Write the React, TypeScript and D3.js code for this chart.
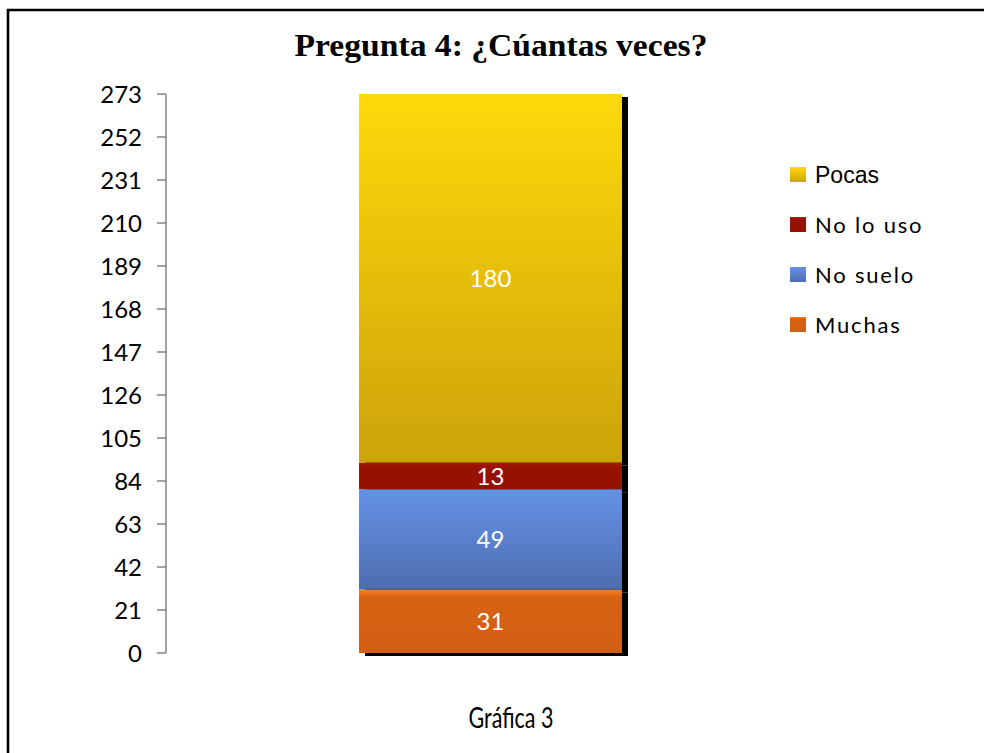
import React from "react";
import * as d3 from "d3";

const categories = ["Muchas", "No suelo", "No lo uso", "Pocas"];
const values = [31, 49, 13, 180];
const tickValues = [0, 21, 42, 63, 84, 105, 126, 147, 168, 189, 210, 231, 252, 273];
const legendOrder = ["Pocas", "No lo uso", "No suelo", "Muchas"];
const titleText = "Pregunta 4: ¿Cúantas veces?";
const xLabel = "Gráfica 3";

const gradients: Record<string, [string, string, string]> = {
  Muchas: ["#FF801F", "#D66214", "#D35F12"],
  "No suelo": ["#6592E6", "#5A80CC", "#4D6CAE"],
  "No lo uso": ["#B41C02", "#971300", "#941200"],
  Pocas: ["#FED90A", "#E6BE0A", "#CCA30A"],
};

const W = 984;
const H = 753;

export default function App() {
  const y = d3.scaleLinear().domain([0, 273]).range([653, 94]);
  const x = d3.scaleBand<string>().domain([xLabel]).range([166, 815]).paddingInner(0).paddingOuter(0.734);
  const bx = x(xLabel) as number;
  const bw = x.bandwidth();

  let acc = 0;
  const segs = categories.map((c, i) => {
    const y0 = acc;
    acc += values[i];
    return { c, v: values[i], y0, y1: acc };
  });

  const fontLato = "Lato, 'Open Sans', sans-serif";

  return (
    <div style={{ position: "absolute", left: 0, top: 0, width: W, height: H }}>
      <svg width={W} height={H} style={{ display: "block" }}>
        <defs>
          {categories.map((c, i) => (
            <linearGradient key={c} id={`g${i}`} x1="0" y1="0" x2="0" y2="1">
              <stop offset="0%" stopColor={gradients[c][0]} />
              <stop offset={c === "Muchas" || c === "No lo uso" ? "12%" : "50%"} stopColor={gradients[c][1]} />
              <stop offset="100%" stopColor={gradients[c][2]} />
            </linearGradient>
          ))}
        </defs>
        <rect x={0} y={0} width={W} height={H} fill="#fff" />
        <path d={`M8,${H} V10 H${W}`} fill="none" stroke="#000" strokeWidth={2.6} />

        <text
          x={501}
          y={56}
          textAnchor="middle"
          fontFamily="'Liberation Serif', 'Times New Roman', serif"
          fontWeight="bold"
          fontSize={31}
          textLength={413}
          lengthAdjust="spacingAndGlyphs"
          fill="#000"
        >
          {titleText}
        </text>

        {/* axis */}
        <line x1={166} x2={166} y1={y(273)} y2={y(0)} stroke="#868686" strokeWidth={1.5} />
        {tickValues.map((t) => (
          <g key={t}>
            <line x1={157} x2={166} y1={y(t)} y2={y(t)} stroke="#868686" strokeWidth={1.5} />
            <text x={142} y={y(t)} dy="0.36em" textAnchor="end" fontFamily={fontLato} fontSize={24} fill="#000">
              {t}
            </text>
          </g>
        ))}

        {/* shadows */}
        {segs.map((s) => (
          <rect key={"sh" + s.c} x={bx + 6} y={y(s.y1) + 3} width={bw} height={y(s.y0) - y(s.y1)} fill="#000" />
        ))}
        {/* bars */}
        {segs.map((s, i) => (
          <rect key={s.c} x={bx} y={y(s.y1)} width={bw} height={y(s.y0) - y(s.y1)} fill={`url(#g${i})`} />
        ))}
        {segs.map((s) => (
          <text
            key={"l" + s.c}
            x={bx + bw / 2}
            y={(y(s.y0) + y(s.y1)) / 2}
            dy="0.36em"
            textAnchor="middle"
            fontFamily={fontLato}
            fontSize={24}
            fill="#fff"
          >
            {s.v}
          </text>
        ))}

        {/* legend */}
        {legendOrder.map((c, i) => {
          const idx = categories.indexOf(c);
          const cy = 175 + i * 50;
          const isArial = c === "Pocas";
          return (
            <g key={"lg" + c}>
              <rect x={790} y={cy - 8} width={16} height={15} fill={`url(#g${idx})`} />
              <text
                x={815}
                y={cy}
                dy="0.36em"
                fontFamily={isArial ? "'Liberation Sans', Arial, sans-serif" : fontLato}
                fontSize={isArial ? 23 : 22}
                letterSpacing={isArial ? 0 : 1.8}
                fill="#000"
              >
                {c}
              </text>
            </g>
          );
        })}

        <text
          x={511}
          y={728}
          textAnchor="middle"
          fontFamily={fontLato}
          fontSize={28}
          textLength={85}
          lengthAdjust="spacingAndGlyphs"
          fill="#000"
        >
          {xLabel}
        </text>
      </svg>
    </div>
  );
}
